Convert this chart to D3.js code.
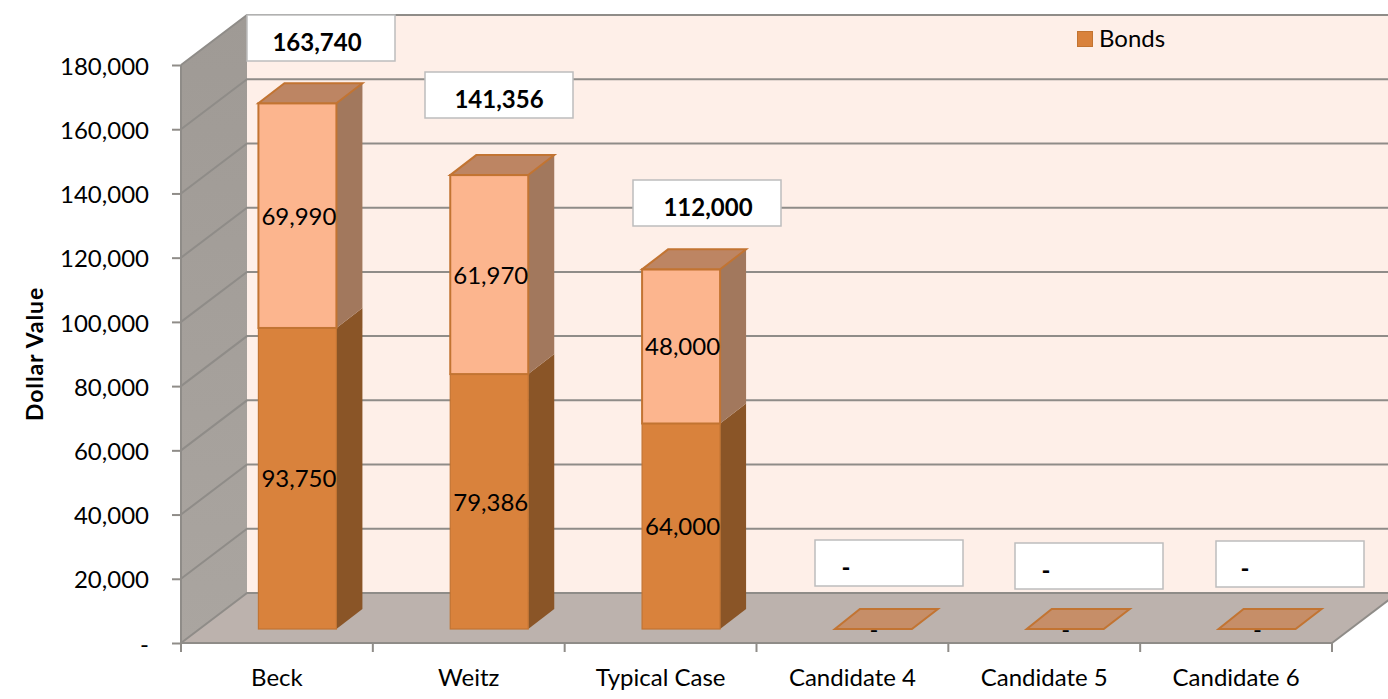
<!DOCTYPE html>
<html><head><meta charset="utf-8">
<script src="https://cdn.jsdelivr.net/npm/d3@7/dist/d3.min.js"></script>
<style>html,body{margin:0;padding:0;background:#fff}svg{display:block}text{font-family:Lato,"Open Sans",sans-serif;fill:#000}</style>
</head><body><svg id="c" width="1388" height="699"></svg>
<script>
const categories = ["Beck","Weitz","Typical Case","Candidate 4","Candidate 5","Candidate 6"];
const bonds = [93750,79386,64000,0,0,0];
const other = [69990,61970,48000,0,0,0];
const totals = [163740,141356,112000,0,0,0];
const yTicks = [0,20000,40000,60000,80000,100000,120000,140000,160000,180000];
const legendLabels = ["Bonds"];
const yTitle = "Dollar Value";

const W=1388,H=699;
const svg=d3.select("#c");
const x0=181,x1=1332,y0=643,y1=65;
const dx=66,dy=50;        // chart depth
const bdx=26,bdy=20;      // bar depth
const baseLift=14, barShift=20.5;
const fs=24;
const x=d3.scaleBand().domain(categories).range([x0,x1]);
const y=d3.scaleLinear().domain([0,180000]).range([y0,y1]);
const fmt=v=>v===0?"-":d3.format(",")(v);
const pts=a=>a.map(p=>p.join(",")).join(" ");
const gridC="#8f8c88";

const defs=svg.append("defs");
const wg=defs.append("linearGradient").attr("id","wallL").attr("x1",0).attr("y1",0).attr("x2",0).attr("y2",1);
wg.append("stop").attr("offset",0).attr("stop-color","#9f9a95");
wg.append("stop").attr("offset",1).attr("stop-color","#aaa5a0");

// back wall, side wall, floor
svg.append("rect").attr("x",x0+dx).attr("y",y(180000)-dy).attr("width",W-x0-dx).attr("height",y(0)-y(180000)).attr("fill","#feefe8");
svg.append("polygon").attr("points",pts([[x0,y0],[x0,y1],[x0+dx,y1-dy],[x0+dx,y0-dy]])).attr("fill","url(#wallL)");
svg.append("polygon").attr("points",pts([[x0,y0],[x1,y0],[x1+dx,y0-dy],[x0+dx,y0-dy]])).attr("fill","#bcb2ad");

// gridlines
const grid=svg.append("g").attr("fill","none").attr("stroke",gridC).attr("stroke-width",2);
yTicks.forEach(t=>{
  grid.append("polyline").attr("points",pts([[x0,y(t)],[x0+dx,y(t)-dy],[W+10,y(t)-dy]]));
});
svg.append("line").attr("x1",x0).attr("x2",x0).attr("y1",y0).attr("y2",y1).attr("stroke",gridC).attr("stroke-width",2);
svg.append("line").attr("x1",x1).attr("y1",y0).attr("x2",x1+dx).attr("y2",y0-dy).attr("stroke",gridC).attr("stroke-width",2);

// y axis
const yAxis=d3.axisLeft(y).tickValues(yTicks).tickFormat(fmt).tickSize(9).tickPadding(23);
const ga=svg.append("g").attr("transform",`translate(${x0},0)`).call(yAxis);
ga.select(".domain").remove();
ga.selectAll("line").attr("stroke",gridC).attr("stroke-width",2);
ga.selectAll("text").style("font-family",'Lato,sans-serif').attr("font-size",fs).attr("fill","#000").attr("dy","0.38em");

// x axis
svg.append("line").attr("x1",x0).attr("x2",x1).attr("y1",y0).attr("y2",y0).attr("stroke",gridC).attr("stroke-width",2);
const edges=categories.map(c=>x(c)).concat([x1]);
svg.selectAll(".xt").data(edges).join("line").attr("class","xt").attr("x1",d=>d).attr("x2",d=>d).attr("y1",y0).attr("y2",y0+9).attr("stroke",gridC).attr("stroke-width",2);
svg.selectAll(".xl").data(categories).join("text").attr("class","xl").attr("x",d=>x(d)+x.bandwidth()/2).attr("y",686).attr("text-anchor","middle").attr("font-size",fs).text(d=>d);

// y title
svg.append("text").attr("transform","translate(43,354) rotate(-90)").attr("text-anchor","middle").attr("font-size",23).attr("letter-spacing",0.9).attr("font-weight","700").text(yTitle);

// bars
const barW=78;
const rows=categories.map((c,i)=>({cat:c,bonds:bonds[i],other:other[i]}));
const stack=d3.stack().keys(["bonds","other"])(rows);
const styles={bonds:{front:"#d9823c",side:"#8a5527",top:"#c98a5c"},other:{front:"#fcb58e",side:"#a2785d",top:"#bd8563"}};
const barY=v=>y(v)-baseLift;
const barC=c=>x(c)+x.bandwidth()/2+barShift;
const barsG=svg.append("g");
categories.forEach((c,i)=>{
  const l=barC(c)-barW/2, r=l+barW;
  const total=totals[i];
  if(total===0){
    barsG.append("polygon").attr("points",pts([[l+1,barY(0)],[r,barY(0)],[r+bdx,barY(0)-bdy],[l+bdx,barY(0)-bdy]]))
      .attr("fill","#c68e68").attr("stroke","#c27432").attr("stroke-width",2);
    return;
  }
  stack.forEach(s=>{
    const st=styles[s.key], a=s[i][0], b=s[i][1];
    barsG.append("polygon").attr("points",pts([[r,barY(a)],[r+bdx,barY(a)-bdy],[r+bdx,barY(b)-bdy],[r,barY(b)]])).attr("fill",st.side);
    barsG.append("rect").attr("x",l).attr("width",barW).attr("y",barY(b)).attr("height",barY(a)-barY(b)).attr("fill",st.front).attr("stroke","#c27432").attr("stroke-width",s.key==="other"?2:1.2);
  });
  const st=styles.other;
  barsG.append("polygon").attr("points",pts([[l,barY(total)],[r,barY(total)],[r+bdx,barY(total)-bdy],[l+bdx,barY(total)-bdy]]))
    .attr("fill",st.top).attr("stroke","#c27432").attr("stroke-width",2);
});

// value labels in bars
stack.forEach(s=>{
  categories.forEach((c,i)=>{
    const v=s.key==="bonds"?bonds[i]:other[i];
    if(v===0) return;
    svg.append("text").attr("x",barC(c)+1.5).attr("y",(barY(s[i][0])+barY(s[i][1]))/2+9).attr("text-anchor","middle").attr("font-size",fs).text(fmt(v));
  });
});
// zero dashes on the floor
categories.forEach((c,i)=>{
  if(totals[i]===0) svg.append("text").attr("x",barC(c)+1).attr("y",barY(0)+9).attr("text-anchor","middle").attr("font-size",fs).text("-");
});

// total boxes (hand placed, as in the reference)
const boxLeft=[247,425,633,815,1015,1216];
const boxTop=[15,72,180,540,543,541];
const boxTextX=[317,499,708,846,1046,1245];
totals.forEach((v,i)=>{
  svg.append("rect").attr("x",boxLeft[i]).attr("y",boxTop[i]).attr("width",148).attr("height",46).attr("fill","#fff").attr("stroke","#bdbdbd").attr("stroke-width",1.5);
  svg.append("text").attr("x",boxTextX[i]).attr("y",boxTop[i]+(i>2?36:35.5)).attr("text-anchor","middle").attr("font-size",24).attr("font-weight","700").text(fmt(v));
});

// legend
svg.append("rect").attr("x",1077.5).attr("y",31.5).attr("width",15).attr("height",15).attr("fill","#d9823c").attr("stroke","#c27432");
svg.append("text").attr("x",1099).attr("y",46.5).attr("font-size",fs).text(legendLabels[0]);
</script></body></html>
